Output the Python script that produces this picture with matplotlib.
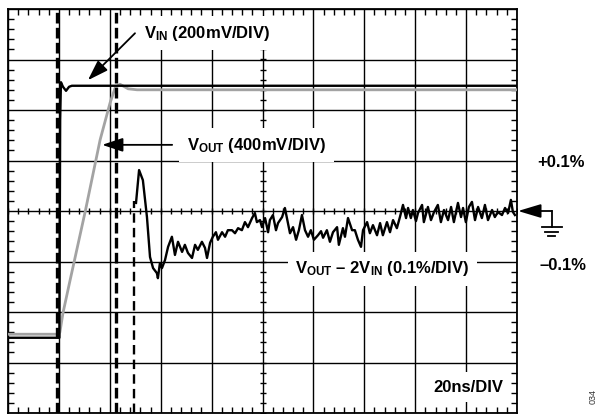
import numpy as np
import matplotlib
matplotlib.use("Agg")
import matplotlib.pyplot as plt

# time axis in ns (20ns/DIV), vertical axis in screen divisions
vin_t = [0, 20.2, 20.5, 20.8, 21.6, 22.8, 24.0, 25.1, 200]
vin_y = [-2.51, -2.51, 1.8, 2.55, 2.46, 2.38, 2.46, 2.48, 2.48]

vout_t = [0, 19.8, 20.4, 21.6, 24.4, 30.3, 36.2, 40.1, 42.1, 44.0, 47.2, 50.7, 200]
vout_y = [-2.44, -2.44, -2.40, -2.02, -1.37, -0.02, 1.41, 2.14, 2.44, 2.51, 2.42, 2.40, 2.40]

err_t = [
    50.3, 51.5, 53.0, 54.6, 55.8, 57.0, 58.5, 58.9, 59.7, 60.5, 61.7, 62.9, 64.4, 65.6,
    66.8, 68.4, 69.5, 70.7, 72.3, 73.5, 74.6, 76.2, 77.4, 78.2, 79.4, 80.5, 81.7, 82.5,
    84.1, 85.3, 86.4, 88.0, 89.2, 90.4, 91.9, 93.1, 94.3, 95.9, 97.0, 97.8, 99.0, 99.8,
    101.0, 102.2, 102.9, 104.1, 105.3, 106.1, 107.7, 108.8, 110.0, 110.8, 112.0, 113.2,
    114.3, 115.5, 116.7, 117.9, 119.0, 120.2, 121.8, 123.0, 123.8, 125.3, 126.5, 127.7,
    129.3, 130.0, 131.6, 132.4, 133.6, 135.2, 136.3, 137.5, 138.7, 139.5, 141.1, 142.2,
    143.4, 145.0, 146.2, 147.3, 148.9, 150.1, 151.3, 152.8, 154.0, 155.2, 156.4, 157.2,
    158.3, 159.1, 160.3, 161.1, 162.7, 163.4, 165.0, 166.2, 167.4, 168.9, 170.1, 171.3,
    172.9, 174.1, 175.2, 176.8, 178.0, 178.8, 179.9, 181.1, 182.3, 183.5, 184.7, 186.2,
    187.4, 188.6, 190.2, 191.3, 192.5, 194.1, 195.3, 196.5, 197.6, 198.4, 199.2,
]
err_y = [
    0.16, 0.81, 0.61, -0.12, -0.91, -1.13, -1.23, -1.33, -1.03, -1.13, -0.97, -0.71, -0.51, -0.87,
    -0.61, -0.81, -0.67, -0.83, -0.93, -0.67, -0.77, -0.61, -0.73, -0.93, -0.63, -0.51, -0.42, -0.57,
    -0.42, -0.51, -0.38, -0.38, -0.44, -0.34, -0.38, -0.22, -0.32, -0.14, -0.04, -0.22, -0.18, -0.32,
    -0.14, -0.42, -0.18, -0.08, -0.38, -0.24, -0.12, 0.06, -0.24, -0.44, -0.32, -0.57,
    -0.38, -0.08, -0.38, -0.51, -0.38, -0.57, -0.48, -0.40, -0.53, -0.38, -0.61, -0.42,
    -0.32, -0.67, -0.34, -0.51, -0.14, -0.38, -0.38, -0.57, -0.71, -0.38, -0.22, -0.44,
    -0.28, -0.48, -0.24, -0.48, -0.22, -0.42, -0.18, -0.34, -0.12, 0.12, -0.14, 0.06,
    -0.14, 0.02, -0.20, -0.04, 0.12, -0.22, 0.08, -0.18, -0.02, 0.12, -0.22, 0.02,
    -0.18, 0.08, -0.22, 0.16, -0.12, 0.06, -0.22, 0.08, 0.18, -0.18, 0.08, -0.14,
    0.12, -0.18, 0.02, -0.12, -0.02, -0.08, 0.06, -0.04, 0.22, -0.02, -0.08,
]

# cursor markers (ns)
cursor_thick = [19.3, 42.4]
cursor_thin = 49.7

plt.rcParams["font.family"] = ["Liberation Sans", "DejaVu Sans"]
plt.rcParams["font.weight"] = "bold"
plt.rcParams["mathtext.fontset"] = "custom"
plt.rcParams["mathtext.rm"] = "Liberation Sans:bold"
plt.rcParams["mathtext.bf"] = "Liberation Sans:bold"
plt.rcParams["mathtext.it"] = "Liberation Sans:bold"

fig = plt.figure(figsize=(5.97, 4.15), dpi=100)
ax = fig.add_axes([8 / 597, 2 / 415, 509 / 597, 404 / 415])
ax.set_xlim(0, 200)
ax.set_ylim(-4, 4)

ax.set_xticks(np.arange(0, 201, 20))
ax.set_yticks(np.arange(-4, 5, 1))
ax.set_xticks(np.arange(0, 201, 4), minor=True)
ax.set_yticks(np.arange(-4, 4.01, 0.2), minor=True)
ax.tick_params(which="both", direction="in", top=True, right=True,
               labelbottom=False, labelleft=False, color="black", width=1)
ax.tick_params(which="major", length=0)
ax.tick_params(which="minor", length=4)
ax.grid(which="major", color="black", linewidth=1.0)
ax.set_axisbelow(True)
for sp in ax.spines.values():
    sp.set_linewidth(1.3)

# centre cross ticks
mx = np.arange(0, 201, 4)
my = np.arange(-4, 4.01, 0.2)
ax.plot(mx, np.zeros_like(mx), "|", color="black", ms=5, mew=1, zorder=1)
ax.plot(np.full_like(my, 100), my, "_", color="black", ms=5, mew=1, zorder=1)

# traces
ax.plot(vout_t, vout_y, color="#a3a3a3", lw=2.0, zorder=4)
ax.plot(vin_t, vin_y, color="black", lw=1.7, zorder=5)
ax.plot(err_t, err_y, color="black", lw=1.7, zorder=5)

# cursors
for c in cursor_thick:
    ax.axvline(c, color="black", lw=2.4, dashes=(3.2, 1.3), zorder=6)
ax.plot([cursor_thin, cursor_thin], [-4, 0.2], color="black", lw=1.7,
        dashes=(4, 2.2), zorder=6)

txt = dict(fontsize=12, fontweight="bold", color="black", zorder=3)
box = dict(facecolor="white", edgecolor="none", boxstyle="square,pad=0.45")

ax.text(53.4, 3.43, r"$\mathrm{V}_{\mathrm{IN}}$ (200mV/DIV)", ha="left",
        va="baseline", bbox=box, **txt)
ax.text(70.3, 1.21, r"$\mathrm{V}_{\mathrm{OUT}}$ (400mV/DIV)", ha="left",
        va="baseline", bbox=box, **txt)
ax.text(112.8, -1.23, r"$\mathrm{V}_{\mathrm{OUT}}$ – 2$\mathrm{V}_{\mathrm{IN}}$ (0.1%/DIV)",
        ha="left", va="baseline", bbox=box, **txt)
ax.text(194.5, -3.58, "20ns/DIV", ha="right", va="baseline", bbox=box, **txt)

arrow = dict(arrowstyle="-|>,head_length=0.9,head_width=0.3", color="black",
             lw=1.3, mutation_scale=14, shrinkA=0, shrinkB=0)
ax.annotate("", xy=(31.4, 2.59), xytext=(49.9, 3.52), arrowprops=arrow, zorder=7)
ax.annotate("", xy=(37.0, 1.31), xytext=(64.5, 1.31), arrowprops=arrow, zorder=7)

# right-hand scale labels and ground marker
ax.text(207.8, 0.87, "+0.1%", ha="left", va="baseline", fontsize=12, fontweight="bold")
ax.text(209.0, -1.17, "\u20130.1%", ha="left", va="baseline", fontsize=12, fontweight="bold")
ax.annotate("", xy=(200.4, 0), xytext=(213.7, 0), annotation_clip=False,
            arrowprops=dict(arrowstyle="-|>,head_length=1.0,head_width=0.3",
                            color="black", lw=1.3, mutation_scale=14,
                            shrinkA=0, shrinkB=0))
ax.plot([213.7, 213.7], [0, -0.32], color="black", lw=1.3, clip_on=False)
for y, hw in [(-0.32, 3.9), (-0.42, 2.6), (-0.50, 1.4)]:
    ax.plot([213.7 - hw, 213.7 + hw], [y, y], color="black", lw=1.3, clip_on=False)

ax.text(229.8, -3.68, "034", rotation=90, ha="center", va="center",
        fontsize=6.5, fontweight="normal", color="#333333")

fig.savefig("out.png", dpi=100)
